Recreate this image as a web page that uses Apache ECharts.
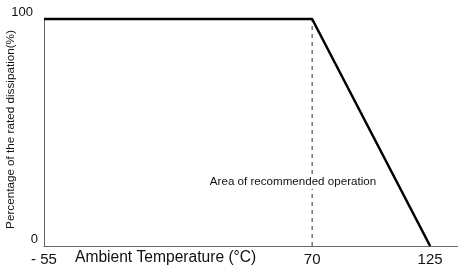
<!DOCTYPE html>
<html><head><meta charset="utf-8">
<script src="https://cdn.jsdelivr.net/npm/echarts@6/dist/echarts.min.js"></script>
<style>html,body{margin:0;padding:0;background:#fff}#c{width:458px;height:275px}</style>
</head><body><div id="c"></div>
<script>
const temps = [-55, 70, 125];
const percent = [100, 100, 0];
const boundaryX = [70, 70];
const boundaryY = [0, 100];
const xTicks = [-55, 70, 125];
const yTicks = [0, 100];
const xName = 'Ambient Temperature (°C)';
const yName = 'Percentage of the rated dissipation(%)';
const areaLabel = 'Area of recommended operation';

const FONT = '"Liberation Sans", Arial, Helvetica, sans-serif';
const chart = echarts.init(document.getElementById('c'), null, {renderer: 'canvas'});
chart.setOption({
  animation: false,
  backgroundColor: '#fff',
  grid: {left: 44, right: 0, top: 19, bottom: 29},
  xAxis: {
    type: 'value', min: -55, max: 138,
    splitLine: {show: false},
    axisLine: {show: true, onZero: false, lineStyle: {color: '#666', width: 1}},
    axisTick: {show: false},
    axisLabel: {
      customValues: xTicks, margin: 6, color: '#111', fontSize: 15, fontFamily: FONT,
      formatter: v => v < 0 ? '- ' + Math.abs(v) : String(v)
    }
  },
  yAxis: {
    type: 'value', min: 0, max: 100,
    splitLine: {show: false},
    axisLine: {show: true, onZero: false, lineStyle: {color: '#666', width: 1}},
    axisTick: {show: false},
    axisLabel: {
      customValues: yTicks, margin: 6, color: '#111', fontSize: 13, fontFamily: FONT,
      verticalAlign: 'bottom',
      formatter: v => v === 100 ? '{a|' + v + '}' : '{b|' + v + '}',
      rich: {
        a: {fontSize: 13, fontFamily: FONT, color: '#111', padding: [0, 5, 0, 0]},
        b: {fontSize: 13, fontFamily: FONT, color: '#111'}
      }
    }
  },
  series: [
    {
      type: 'line', data: boundaryX.map((x, i) => [x, boundaryY[i]]),
      symbol: 'none', silent: true, clip: false,
      lineStyle: {color: '#333', width: 1, type: [4, 4]}, z: 1
    },
    {
      type: 'line', data: temps.map((t, i) => [t, percent[i]]),
      symbol: 'none', silent: true, clip: false,
      lineStyle: {color: '#000', width: 2.5}, z: 3
    }
  ],
  graphic: [
    {type: 'text', left: 75, top: 250, z: 10,
     style: {text: xName, fontSize: 15.6, fontFamily: FONT, fill: '#111'}},
    {type: 'text', x: 11, y: 129.5, rotation: Math.PI / 2, z: 10,
     style: {text: yName, fontSize: 11.7, fontFamily: FONT, fill: '#111', align: 'center', verticalAlign: 'middle'}},
    {type: 'text', x: 293, y: 182, z: 5,
     style: {text: areaLabel, fontSize: 11.6, fontFamily: FONT, fill: '#111', align: 'center', verticalAlign: 'middle',
             backgroundColor: '#fff', padding: [1, 0, 1, 0]}}
  ]
});
</script></body></html>
